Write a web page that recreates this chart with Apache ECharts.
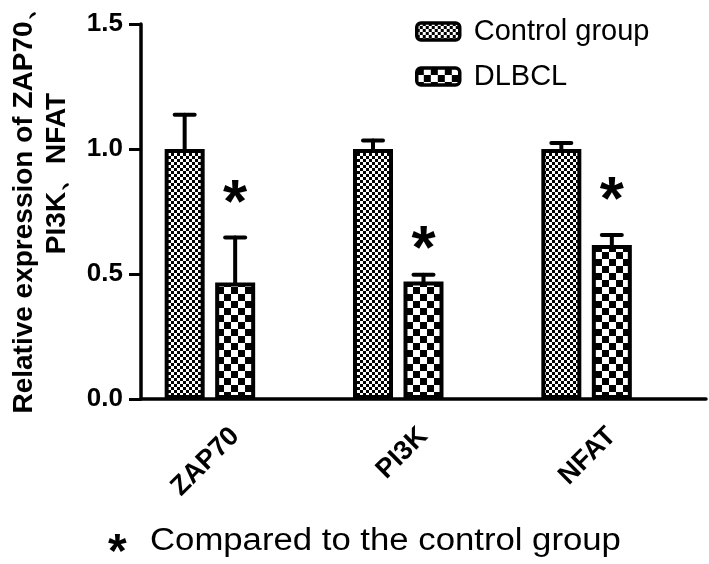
<!DOCTYPE html>
<html><head><meta charset="utf-8">
<script src="https://cdn.jsdelivr.net/npm/echarts@6/dist/echarts.min.js"></script>
<style>html,body{margin:0;padding:0;background:#fff}#c{width:709px;height:564px}</style>
</head><body><div id="c"></div>
<script>
// ---- data ----
const categories = ['ZAP70', 'PI3K', 'NFAT'];
const seriesNames = ['Control group', 'DLBCL'];
const controlValues = [1.0, 1.0, 1.0];
const controlErrors = [0.137, 0.034, 0.024];
const dlbclValues = [0.466, 0.47, 0.616];
const dlbclErrors = [0.18, 0.027, 0.04];
const starValues = [0.82, 0.636, 0.832];
const yTickLabels = ['0.0', '0.5', '1.0', '1.5'];
const yTitleLines = ['Relative expression of ZAP70\u3001', 'PI3K\u3001NFAT'];
const footnoteText = 'Compared to the control group';

// ---- styling ----
const BAR_W = 40, BAR_GAP = 0.2625, STEP = BAR_W * (1 + BAR_GAP);
const FONT = '"Liberation Sans", Arial, sans-serif';

function checker(cell) {
  const c = document.createElement('canvas');
  c.width = c.height = cell * 2;
  const g = c.getContext('2d');
  g.fillStyle = '#fff'; g.fillRect(0, 0, cell * 2, cell * 2);
  g.fillStyle = '#000';
  g.fillRect(0, 0, cell, cell);
  g.fillRect(cell, cell, cell, cell);
  return { image: c, repeat: 'repeat' };
}
const fineCheck = checker(3);
const coarseCheck = checker(7);

function errorBarSeries(vals, errs, offset) {
  return {
    type: 'custom', silent: true, z: 3,
    data: vals.map((v, i) => [i, v, errs[i]]),
    renderItem: function (params, api) {
      const x = api.coord([api.value(0), 0])[0] + offset;
      const yb = api.coord([api.value(0), api.value(1)])[1];
      const yt = api.coord([api.value(0), api.value(1) + api.value(2)])[1];
      const st = { stroke: '#000', lineWidth: 4, lineCap: 'round' };
      return { type: 'group', children: [
        { type: 'line', shape: { x1: x, y1: yb, x2: x, y2: yt }, style: st },
        { type: 'line', shape: { x1: x - 10, y1: yt, x2: x + 10, y2: yt }, style: st }
      ] };
    }
  };
}

const titleStyle = { fontSize: 28, fontWeight: 'bold', color: '#000', lineHeight: 33, fontFamily: FONT };

const chart = echarts.init(document.getElementById('c'), null, { renderer: 'canvas' });
chart.setOption({
  animation: false,
  backgroundColor: '#fff',
  textStyle: { fontFamily: FONT },
  grid: { left: 141, right: 3, top: 24, bottom: 165, containLabel: false, outerBoundsMode: 'none' },
  legend: {
    data: seriesNames,
    orient: 'vertical', left: 410, top: 12,
    icon: 'roundRect', itemWidth: 43, itemHeight: 17, itemGap: 16,
    itemStyle: { borderColor: '#000', borderWidth: 3.5 },
    textStyle: { fontSize: 29, color: '#000', lineHeight: 28, fontFamily: FONT, padding: [0, 0, 0, 9] }
  },
  xAxis: {
    type: 'category', data: categories,
    axisLine: { lineStyle: { color: '#000', width: 3.5 } },
    axisTick: { alignWithLabel: true, length: 12, lineStyle: { color: '#000', width: 3 } },
    axisLabel: { rotate: 45, margin: 33, fontSize: 27, fontWeight: 'bold', color: '#000', fontFamily: FONT }
  },
  yAxis: {
    type: 'value', min: 0, max: 1.5, interval: 0.5,
    splitLine: { show: false },
    axisLine: { show: true, lineStyle: { color: '#000', width: 3.5 } },
    axisTick: { show: true, length: 12, lineStyle: { color: '#000', width: 3 } },
    axisLabel: { margin: 18, fontSize: 26, fontWeight: 'bold', color: '#000', fontFamily: FONT,
      formatter: (v) => yTickLabels[Math.round(v / 0.5)] },
    name: '{a|' + yTitleLines[0] + '}\n{b|' + yTitleLines[1] + '}',
    nameLocation: 'middle', nameRotate: 90, nameGap: 67,
    nameTextStyle: Object.assign({}, titleStyle, {
      rich: {
        a: Object.assign({}, titleStyle, { padding: [0, 0, 0, 16] }),
        b: Object.assign({}, titleStyle, { padding: [0, 0, 0, 76] })
      }
    })
  },
  series: [
    { name: seriesNames[0], type: 'bar', data: controlValues, barWidth: BAR_W, barGap: (BAR_GAP * 100) + '%',
      itemStyle: { color: fineCheck, borderColor: '#000', borderWidth: 4 } },
    { name: seriesNames[1], type: 'bar', data: dlbclValues, barWidth: BAR_W,
      itemStyle: { color: coarseCheck, borderColor: '#000', borderWidth: 4 } },
    { name: '_spacer', type: 'bar', data: categories.map(() => 0), barWidth: BAR_W, silent: true,
      itemStyle: { color: 'rgba(0,0,0,0)' } },
    errorBarSeries(controlValues, controlErrors, -STEP),
    errorBarSeries(dlbclValues, dlbclErrors, 0),
    {
      type: 'custom', silent: true, z: 4,
      data: starValues.map((v, i) => [i, v]),
      renderItem: function (params, api) {
        const p = api.coord([api.value(0), api.value(1)]);
        return { type: 'text', x: p[0], y: p[1] + 11,
          style: { text: '*', font: 'bold 62px ' + FONT, fill: '#000', align: 'center', verticalAlign: 'middle' } };
      }
    }
  ],
  graphic: [
    { type: 'text', left: 108, top: 530, style: { text: '*', font: 'bold 48px ' + FONT, fill: '#000' } },
    { type: 'text', left: 150, top: 526, scaleX: 1.12,
      style: { text: footnoteText, font: '31px ' + FONT, fill: '#000' } }
  ]
});
</script>
</body></html>
